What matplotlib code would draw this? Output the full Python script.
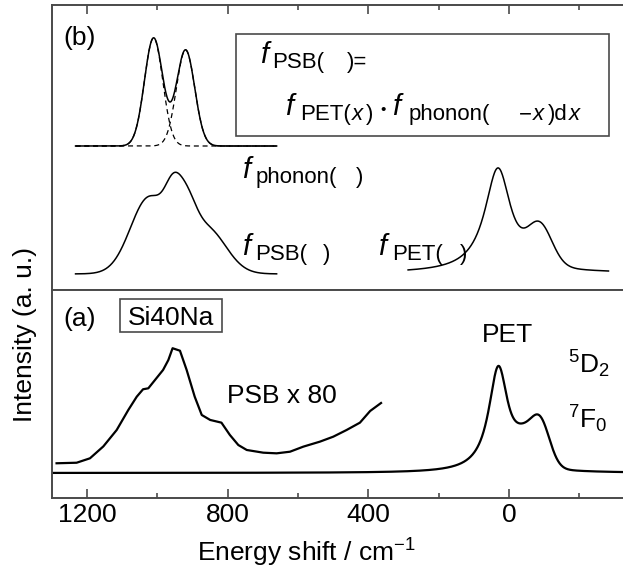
import numpy as np
import matplotlib
matplotlib.use("Agg")
import matplotlib.pyplot as plt
from matplotlib.ticker import MultipleLocator
from matplotlib.patches import Rectangle

plt.rcParams["font.family"] = "Liberation Sans"
plt.rcParams["mathtext.fontset"] = "custom"
plt.rcParams["mathtext.rm"] = "Liberation Sans"
plt.rcParams["mathtext.it"] = "Liberation Sans:italic"

W, H = 623, 576

# (a) measured PET band: Lorentzian main line + two Gaussians (centre cm-1, height, width)
pet_lor = [(30.05, 0.984, 33.77)]
pet_gau = [(-87.81, 0.427, 27.62), (-36.84, 0.181, 26.41)]

# (a) phonon sideband, magnified x80 (energy shift cm-1, intensity)
psb_x = [1287, 1230, 1192, 1154, 1116, 1083, 1059, 1041, 1026, 1007, 984, 969,
         957, 936, 917, 894, 874, 850, 818, 794, 770, 746, 699, 661, 623, 585,
         538, 500, 462, 424, 395, 364]
psb_y = [0.090, 0.095, 0.136, 0.246, 0.398, 0.583, 0.706, 0.775, 0.784, 0.861,
         0.954, 1.046, 1.155, 1.132, 0.954, 0.706, 0.537, 0.491, 0.466, 0.352,
         0.259, 0.213, 0.188, 0.182, 0.197, 0.244, 0.290, 0.336, 0.398, 0.466,
         0.574, 0.648]

# (b) model curves
phonon_base = 1.44
phonon_comp = [(1011, 1.08, 26), (920, 0.96, 26)]          # Gaussians
phonon_range = (1233, 661)

fpsb_base = 0.161
fpsb_comp = [(1023.4, 0.765, 53.2), (956.1, 0.412, 23.7),
             (917.7, 0.415, 27.0), (860.5, 0.456, 54.6)]   # Gaussians
fpsb_range = (1233, 661)

fpet_base = 0.168
fpet_lor = [(31.23, 1.052, 45.87)]
fpet_gau = [(-88.16, 0.379, 34.54)]
fpet_range = (287, -283)

xticks_major = [1200, 800, 400, 0]
xtick_labels = ["1200", "800", "400", "0"]


def lorentz(x, comps):
    y = np.zeros_like(x)
    for c, a, g in comps:
        y += a / (1 + ((x - c) / g) ** 2)
    return y


def gauss(x, comps):
    y = np.zeros_like(x)
    for c, a, s in comps:
        y += a * np.exp(-0.5 * ((x - c) / s) ** 2)
    return y


fig = plt.figure(figsize=(W / 100, H / 100), dpi=100)
ax_b = fig.add_axes([52 / W, (H - 290) / H, 573 / W, 285 / H])
ax_a = fig.add_axes([52 / W, (H - 498) / H, 573 / W, 208 / H])

spine_col = "#4a4a4a"
for ax in (ax_a, ax_b):
    ax.set_xlim(1300, -330)
    for s in ax.spines.values():
        s.set_color(spine_col)
        s.set_linewidth(1.4)
    ax.spines["right"].set_visible(False)
    ax.set_yticks([])
    ax.xaxis.set_major_locator(MultipleLocator(400))
    ax.xaxis.set_minor_locator(MultipleLocator(200))
    ax.tick_params(axis="x", which="both", direction="in", color=spine_col, width=1.2)
    ax.tick_params(axis="x", which="major", length=6.8)
    ax.tick_params(axis="x", which="minor", length=3.4)

ax_a.set_ylim(-0.2315, 1.694)
ax_b.set_ylim(0, 2.85)

ax_a.set_xticks(xticks_major)
ax_a.set_xticklabels(xtick_labels, fontsize=19)
ax_a.tick_params(axis="x", which="both", top=False, bottom=True, pad=3.5)
ax_b.tick_params(axis="x", which="both", top=True, bottom=False, labelbottom=False)

# ---- (a) spectra
xa = np.linspace(1300, -330, 1500)
ax_a.plot(xa, lorentz(xa, pet_lor) + gauss(xa, pet_gau), color="black", lw=1.6)
ax_a.plot(psb_x, psb_y, color="black", lw=1.6)

# ---- (b) model curves
xp = np.linspace(*phonon_range, 500)
for comp in phonon_comp:
    ax_b.plot(xp, phonon_base + gauss(xp, [comp]), color="black", lw=0.9,
              ls=(0, (4, 3)))
ax_b.plot(xp, phonon_base + gauss(xp, phonon_comp), color="black", lw=1.1)

xs = np.linspace(*fpsb_range, 500)
ax_b.plot(xs, fpsb_base + gauss(xs, fpsb_comp), color="black", lw=1.1)

xt = np.linspace(*fpet_range, 500)
ax_b.plot(xt, fpet_base + lorentz(xt, fpet_lor) + gauss(xt, fpet_gau),
          color="black", lw=1.1)


# ---- text, placed in figure pixels (from top-left)
def ftxt(x, y, s, **kw):
    return fig.text(x / W, 1 - y / H, s, va="baseline", ha="left", **kw)


renderer = fig.canvas.get_renderer()
EQ_SIZE = 16
F_SIZE = 21


def run(x0, x1, y0, pieces):
    # pieces: (text, italic, raise_px, gap weight[, size]); gaps stretch to fill x0..x1
    texts = []
    for p in pieces:
        s, it, up, wgt = p[:4]
        size = p[4] if len(p) > 4 else (F_SIZE if s == "f" else EQ_SIZE)
        t = ftxt(x0, y0 - up, s, fontsize=size, style="italic" if it else "normal")
        texts.append((t, t.get_window_extent(renderer).width, wgt))
    spare = (x1 - x0) - sum(w for _, w, _ in texts)
    total = sum(g for _, _, g in texts) or 1
    x = x0
    for t, w, g in texts:
        t.set_x(x / W)
        x += w + spare * g / total


ftxt(63, 44.5, "(b)", fontsize=19)
ftxt(63, 326, "(a)", fontsize=19)
ftxt(128, 325, "Si40Na", fontsize=19)
fig.patches.append(Rectangle((120 / W, 1 - 331.7 / H), 101.7 / W, 32.4 / H,
                             transform=fig.transFigure, fill=False,
                             ec=spine_col, lw=1.2))
ftxt(226.7, 403, "PSB x 80", fontsize=19)
ftxt(481.7, 341.7, "PET", fontsize=19)
ftxt(568, 373, r"$^{5}$D$_{2}$", fontsize=19)
ftxt(568, 428, r"$^{7}$F$_{0}$", fontsize=19)

# equation box
fig.patches.append(Rectangle((235.7 / W, 1 - 136 / H), 373.3 / W, 101.7 / H,
                             transform=fig.transFigure, fill=False,
                             ec=spine_col, lw=1.2))
run(260, 367, 68, [("f", True, 5, 4), ("PSB(", False, 0, 24), (")=", False, 0, 0)])
run(285, 580, 120, [("f", True, 5, 8), ("PET(", False, 0, 0), ("x", True, 0, 4),
                    (")", False, 0, 7), ("\u2022", False, 6, 7, 11), ("f", True, 5, 9),
                    ("phonon(", False, 0, 30), ("\u2212", False, 0, 2),
                    ("x", True, 0, 4), (")d", False, 0, 1), ("x", True, 0, 0)])

run(241.7, 363.3, 183, [("f", True, 5, 8), ("phonon(", False, 0, 24), (")", False, 0, 0)])
run(241.7, 330, 260, [("f", True, 5, 8), ("PSB(", False, 0, 22), (")", False, 0, 0)])
run(378.3, 467, 260, [("f", True, 5, 8), ("PET(", False, 0, 22), (")", False, 0, 0)])

fig.text(25 / W, 1 - 335 / H, "Intensity (a. u.)", rotation=90, fontsize=19,
         ha="center", va="center")
fig.text(306 / W, 1 - 553 / H, "Energy shift / cm$^{-1}$", fontsize=19,
         ha="center", va="center")

fig.savefig("out.png", dpi=100)
